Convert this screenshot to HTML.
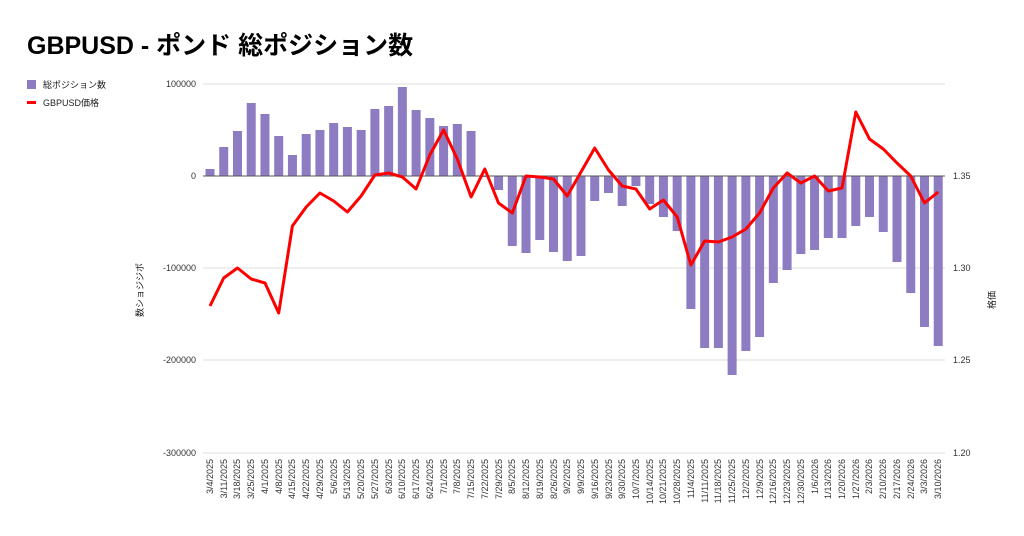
<!DOCTYPE html>
<html><head><meta charset="utf-8"><style>
body{margin:0;background:#fff;}
svg{display:block;font-family:"Liberation Sans","Noto Sans CJK JP",sans-serif;}
</style></head><body>
<svg id="s" width="1024" height="536" viewBox="0 0 1024 536">
<text x="27" y="54" font-size="25" font-weight="bold" fill="#000">GBPUSD - ポンド 総ポジション数</text>
<rect x="27" y="80" width="9" height="9" fill="#8e7cc3"/>
<text x="43" y="88" font-size="9" fill="#222">総ポジション数</text>
<rect x="27" y="101" width="9" height="3" fill="#ff0000"/>
<text x="43" y="106" font-size="9" fill="#222">GBPUSD価格</text>
<g stroke="#dddddd" stroke-width="1">
<line x1="203" x2="945" y1="84" y2="84"/>
<line x1="203" x2="945" y1="268" y2="268"/>
<line x1="203" x2="945" y1="360" y2="360"/>
<line x1="203" x2="945" y1="453" y2="453"/>
</g>
<g font-size="9" fill="#333" text-anchor="end">
<text x="196" y="87">100000</text>
<text x="196" y="179">0</text>
<text x="196" y="271">-100000</text>
<text x="196" y="363">-200000</text>
<text x="196" y="456">-300000</text>
</g>
<g font-size="9" fill="#333" text-anchor="start">
<text x="953" y="179">1.35</text>
<text x="953" y="271">1.30</text>
<text x="953" y="363">1.25</text>
<text x="953" y="456">1.20</text>
</g>
<text transform="translate(143,290) rotate(-90)" font-size="9" fill="#222" text-anchor="middle">数ショジジポ</text>
<text transform="translate(995,300) rotate(-90)" font-size="9" fill="#222" text-anchor="middle">格価</text>
<g id="bars" fill="#8e7cc3"></g>
<line x1="203" x2="945" y1="176" y2="176" stroke="#555" stroke-width="1"/>
<polyline id="ln" fill="none" stroke="#ff0000" stroke-width="3" stroke-linejoin="round"/>
<g font-size="9" fill="#333" text-anchor="end" id="lbl">
<text transform="translate(213,459) rotate(-90)">3/4/2025</text>
<text transform="translate(227,459) rotate(-90)">3/11/2025</text>
<text transform="translate(240,459) rotate(-90)">3/18/2025</text>
<text transform="translate(254,459) rotate(-90)">3/25/2025</text>
<text transform="translate(268,459) rotate(-90)">4/1/2025</text>
<text transform="translate(282,459) rotate(-90)">4/8/2025</text>
<text transform="translate(295,459) rotate(-90)">4/15/2025</text>
<text transform="translate(309,459) rotate(-90)">4/22/2025</text>
<text transform="translate(323,459) rotate(-90)">4/29/2025</text>
<text transform="translate(337,459) rotate(-90)">5/6/2025</text>
<text transform="translate(350,459) rotate(-90)">5/13/2025</text>
<text transform="translate(364,459) rotate(-90)">5/20/2025</text>
<text transform="translate(378,459) rotate(-90)">5/27/2025</text>
<text transform="translate(392,459) rotate(-90)">6/3/2025</text>
<text transform="translate(405,459) rotate(-90)">6/10/2025</text>
<text transform="translate(419,459) rotate(-90)">6/17/2025</text>
<text transform="translate(433,459) rotate(-90)">6/24/2025</text>
<text transform="translate(447,459) rotate(-90)">7/1/2025</text>
<text transform="translate(460,459) rotate(-90)">7/8/2025</text>
<text transform="translate(474,459) rotate(-90)">7/15/2025</text>
<text transform="translate(488,459) rotate(-90)">7/22/2025</text>
<text transform="translate(502,459) rotate(-90)">7/29/2025</text>
<text transform="translate(515,459) rotate(-90)">8/5/2025</text>
<text transform="translate(529,459) rotate(-90)">8/12/2025</text>
<text transform="translate(543,459) rotate(-90)">8/19/2025</text>
<text transform="translate(557,459) rotate(-90)">8/26/2025</text>
<text transform="translate(570,459) rotate(-90)">9/2/2025</text>
<text transform="translate(584,459) rotate(-90)">9/9/2025</text>
<text transform="translate(598,459) rotate(-90)">9/16/2025</text>
<text transform="translate(612,459) rotate(-90)">9/23/2025</text>
<text transform="translate(625,459) rotate(-90)">9/30/2025</text>
<text transform="translate(639,459) rotate(-90)">10/7/2025</text>
<text transform="translate(653,459) rotate(-90)">10/14/2025</text>
<text transform="translate(666,459) rotate(-90)">10/21/2025</text>
<text transform="translate(680,459) rotate(-90)">10/28/2025</text>
<text transform="translate(694,459) rotate(-90)">11/4/2025</text>
<text transform="translate(708,459) rotate(-90)">11/11/2025</text>
<text transform="translate(721,459) rotate(-90)">11/18/2025</text>
<text transform="translate(735,459) rotate(-90)">11/25/2025</text>
<text transform="translate(749,459) rotate(-90)">12/2/2025</text>
<text transform="translate(763,459) rotate(-90)">12/9/2025</text>
<text transform="translate(776,459) rotate(-90)">12/16/2025</text>
<text transform="translate(790,459) rotate(-90)">12/23/2025</text>
<text transform="translate(804,459) rotate(-90)">12/30/2025</text>
<text transform="translate(818,459) rotate(-90)">1/6/2026</text>
<text transform="translate(831,459) rotate(-90)">1/13/2026</text>
<text transform="translate(845,459) rotate(-90)">1/20/2026</text>
<text transform="translate(859,459) rotate(-90)">1/27/2026</text>
<text transform="translate(872,459) rotate(-90)">2/3/2026</text>
<text transform="translate(886,459) rotate(-90)">2/10/2026</text>
<text transform="translate(900,459) rotate(-90)">2/17/2026</text>
<text transform="translate(914,459) rotate(-90)">2/24/2026</text>
<text transform="translate(927,459) rotate(-90)">3/3/2026</text>
<text transform="translate(941,459) rotate(-90)">3/10/2026</text>
</g>
</svg>
<script>
var b=[169,147,131,103,114,136,155,134,130,123,127,130,109,106,87,110,118,126,124,131,177,190,246,253,240,252,261,256,201,193,206,186,204,217,231,309,348,348,375,351,337,283,270,254,250,238,238,226,217,232,262,293,327,346];
var l=[306,278,268,279,283,313,226,207,193,201,212,196,175,173,177,189,155,130,159,197,169,203,213,176,177,179,196,172,148,170,186,189,209,200,217,265,241,242,237,229,213,188,173,183,176,191,188,112,139,149,163,176,203,192];
var g=document.getElementById('bars'),ns='http://www.w3.org/2000/svg',pts=[];
for(var i=0;i<54;i++){var x=210+13.74*i;var r=document.createElementNS(ns,'rect');
var y0=Math.min(b[i],176),h=Math.abs(b[i]-176);
r.setAttribute('x',x-4.5);r.setAttribute('y',y0);r.setAttribute('width',9);r.setAttribute('height',Math.max(h,1));g.appendChild(r);
pts.push(x.toFixed(1)+','+l[i]);}
document.getElementById('ln').setAttribute('points',pts.join(' '));
</script>
</body></html>
